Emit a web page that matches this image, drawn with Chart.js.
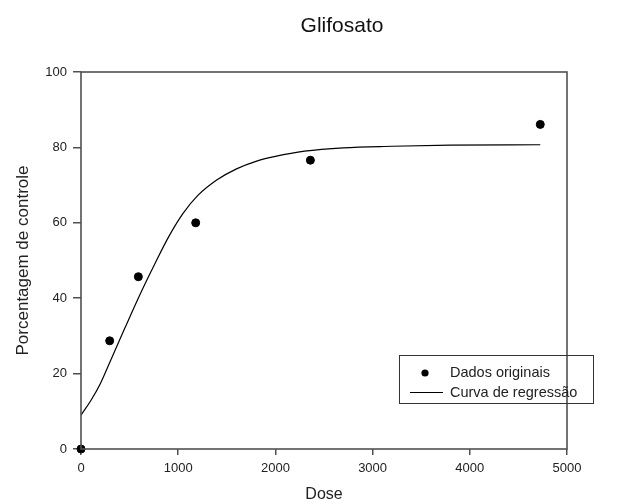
<!DOCTYPE html>
<html>
<head>
<meta charset="utf-8">
<script src="https://cdn.jsdelivr.net/npm/chart.js@4.4.0/dist/chart.umd.min.js"></script>
<style>
html, body { margin: 0; padding: 0; background: #fff; }
#wrap { width: 630px; height: 504px; position: relative; }
</style>
</head>
<body>
<div id="wrap"><canvas id="grafico"></canvas></div>
<script>
// dados
var doses = [0, 295, 590, 1180, 2360, 4725];
var controle = [0, 28.7, 45.7, 60.0, 76.6, 86.1];

// curva de regressao (pontos lidos sobre a linha)
var curvaX = [0, 100, 200, 300, 450, 600, 750, 900, 1050, 1200, 1400, 1600, 1800, 2000, 2300, 2700, 3200, 3800, 4725];
var curvaY = [9, 12.8, 17.4, 23.2, 32, 40.6, 48.6, 56.2, 62.5, 67.2, 71.4, 74.3, 76.3, 77.6, 79, 79.9, 80.3, 80.6, 80.7];

var xTicks = [0, 1000, 2000, 3000, 4000, 5000];
var yTicks = [0, 20, 40, 60, 80, 100];

var titulo = 'Glifosato';
var fonte = "'Liberation Sans', Arial, sans-serif";

function pares(xs, ys) {
  var out = [];
  for (var i = 0; i < xs.length; i++) out.push({ x: xs[i], y: ys[i] });
  return out;
}

// moldura, titulo e legenda desenhados a mao
var moldura = {
  id: 'moldura',
  afterDraw: function(chart) {
    var c = chart.ctx, a = chart.chartArea;
    c.save();
    c.strokeStyle = '#505050';
    c.lineWidth = 1.6;
    c.strokeRect(a.left, a.top, a.right - a.left, a.bottom - a.top);

    c.fillStyle = '#111';
    c.font = '21px ' + fonte;
    c.textAlign = 'center';
    c.textBaseline = 'middle';
    c.fillText(titulo, 342, 26);

    // legenda
    var bx = 399, by = 355, bw = 194, bh = 48;
    c.lineWidth = 1;
    c.strokeStyle = '#333';
    c.strokeRect(bx + 0.5, by + 0.5, bw, bh);
    c.fillStyle = '#000';
    c.beginPath();
    c.arc(425, 373, 3.6, 0, Math.PI * 2);
    c.fill();
    c.beginPath();
    c.moveTo(410, 392.5);
    c.lineTo(443, 392.5);
    c.lineWidth = 1.2;
    c.strokeStyle = '#000';
    c.stroke();
    c.font = '14.5px ' + fonte;
    c.fillStyle = '#222';
    c.textAlign = 'left';
    c.fillText(chart.data.datasets[0].label, 450, 373);
    c.fillText(chart.data.datasets[1].label, 450, 393);
    c.restore();
  }
};

new Chart(document.getElementById('grafico'), {
  type: 'scatter',
  data: {
    datasets: [{
      label: 'Dados originais',
      data: pares(doses, controle),
      backgroundColor: '#000',
      borderColor: '#000',
      pointRadius: 4,
      pointHoverRadius: 4,
      clip: false
    }, {
      label: 'Curva de regressão',
      data: pares(curvaX, curvaY),
      showLine: true,
      borderColor: '#000',
      borderWidth: 1.2,
      pointRadius: 0,
      cubicInterpolationMode: 'monotone',
      fill: false
    }]
  },
  options: {
    responsive: true,
    maintainAspectRatio: false,
    animation: false,
    layout: { padding: { left: 0, right: 63, top: 72, bottom: 0 } },
    plugins: {
      legend: { display: false },
      tooltip: { enabled: false },
      title: { display: false }
    },
    scales: {
      x: {
        type: 'linear',
        min: 0,
        max: 5000,
        afterBuildTicks: function(s) { s.ticks = xTicks.map(function(v) { return { value: v }; }); },
        afterFit: function(s) { s.height = 55; },
        grid: { drawOnChartArea: false, drawTicks: true, tickLength: 6, color: '#505050', lineWidth: 1.5 },
        border: { display: false },
        ticks: { color: '#222', font: { family: fonte, size: 13 }, padding: 6, maxRotation: 0,
          callback: function(v) { return String(v); } },
        title: { display: true, text: 'Dose', color: '#222', font: { family: fonte, size: 16 }, padding: { top: 4, bottom: 0 } }
      },
      y: {
        type: 'linear',
        min: 0,
        max: 100,
        afterBuildTicks: function(s) { s.ticks = yTicks.map(function(v) { return { value: v }; }); },
        afterFit: function(s) { s.width = 81; },
        grid: { drawOnChartArea: false, drawTicks: true, tickLength: 8, color: '#505050', lineWidth: 1.5 },
        border: { display: false },
        ticks: { color: '#222', font: { family: fonte, size: 13 }, padding: 6,
          callback: function(v) { return String(v); } },
        title: { display: true, text: 'Porcentagem de controle', color: '#222', font: { family: fonte, size: 17 }, padding: { top: 13, bottom: 0 } }
      }
    }
  },
  plugins: [moldura]
});
</script>
</body>
</html>
